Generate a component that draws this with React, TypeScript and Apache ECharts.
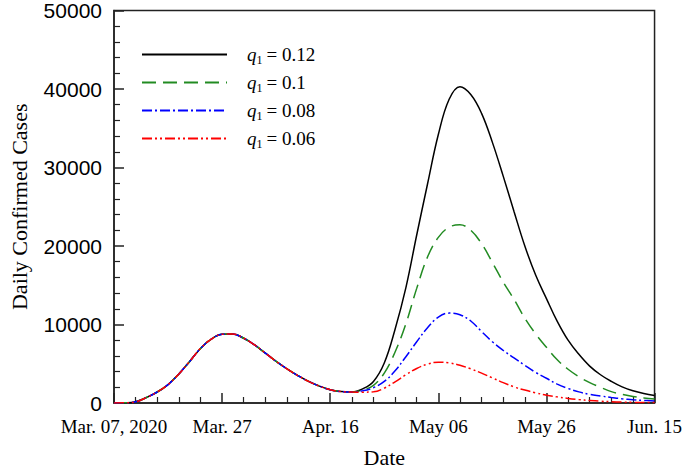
import React, { useEffect, useRef } from "react";
import * as echarts from "echarts";

const days = [0, 2, 4, 6, 8, 10, 12, 14, 16, 18, 20, 22, 24, 26, 28, 30, 32, 34, 36, 38, 40, 42, 44, 46, 48, 50, 52, 54, 56, 58, 60, 62, 64, 66, 68, 70, 72, 74, 76, 78, 80, 82, 84, 86, 88, 90, 92, 94, 96, 98, 100];

const firstWave = [0, 20, 150, 700, 1400, 2350, 3700, 5300, 6950, 8150, 8750, 8780, 8250, 7400, 6350, 5300, 4350, 3500, 2750, 2150, 1700, 1450, 1400];

const q012 = [1800, 2750, 5100, 9400, 14700, 21400, 27900, 34200, 38700, 40300, 39300, 36900, 33200, 28900, 24400, 20000, 16300, 13300, 10400, 8000, 6200, 4700, 3600, 2750, 2050, 1550, 1200, 950];
const q010 = [1650, 2250, 3800, 6500, 10100, 14600, 18600, 21100, 22400, 22700, 22000, 20300, 17900, 15400, 13200, 10800, 8800, 7100, 5500, 4300, 3350, 2600, 2000, 1450, 1100, 830, 650, 500];
const q008 = [1550, 1950, 2750, 4100, 5900, 7800, 9600, 10950, 11450, 11250, 10450, 9100, 7800, 6700, 5750, 4800, 3900, 3150, 2400, 1850, 1420, 1100, 900, 710, 540, 420, 330, 250];
const q006 = [1380, 1420, 1900, 2700, 3600, 4400, 4950, 5200, 5100, 4800, 4350, 3800, 3200, 2600, 2050, 1650, 1300, 1000, 780, 580, 430, 320, 230, 160, 110, 80, 60, 50];

const qValues = ["0.12", "0.1", "0.08", "0.06"];
const tickLabels = ["Mar. 07, 2020", "Mar. 27", "Apr. 16", "May 06", "May 26", "Jun. 15"];
const yTicks = [0, 10000, 20000, 30000, 40000, 50000];

const colors = ["#000000", "#228B22", "#0000ff", "#ff0000"];
const dashes: any[] = ["solid", [14, 7], [10, 3, 2, 3], [10, 3, 2, 3, 2, 3]];

export default function App() {
  const ref = useRef<HTMLDivElement>(null);
  useEffect(() => {
    document.body.style.margin = "0";
    const chart = echarts.init(ref.current!, null, { renderer: "svg" });
    const seriesVals = [q012, q010, q008, q006];
    const series = seriesVals.map((vals, i) => {
      const all = firstWave.concat(vals);
      return {
        type: "line",
        name: "q1 = " + qValues[i],
        data: days.map((d, k) => [d, all[k]]),
        smooth: 0.4,
        symbol: "none",
        showSymbol: false,
        lineStyle: { color: colors[i], width: 1.5, type: dashes[i] },
        itemStyle: { color: colors[i] },
      };
    });
    const option: any = {
      animation: false,
      grid: {
        left: 106,
        right: 25,
        top: 10,
        bottom: 65,
        show: true,
        borderColor: "#222",
        borderWidth: 1.5,
        backgroundColor: "transparent",
      },
      legend: {
        orient: "vertical",
        left: 141,
        top: 45,
        padding: 0,
        itemWidth: 85,
        itemHeight: 14,
        itemGap: 7.5,
        itemStyle: { opacity: 0 },
        data: series.map((s) => s.name),
        textStyle: {
          fontFamily: "Liberation Serif",
          fontSize: 18,
          color: "#000",
          padding: [0, 0, 0, 15],
          rich: {
            q: { fontFamily: "Liberation Serif", fontStyle: "italic", fontSize: 19, color: "#000" },
            s: { fontFamily: "Liberation Serif", fontSize: 12, color: "#000", padding: [10, 4, 0, 0] },
            t: { fontFamily: "Liberation Serif", fontSize: 19, color: "#000" },
          },
        },
        formatter: (name: string) => {
          const v = name.split("= ")[1];
          return "{q|q}{s|1}{t|= " + v + "}";
        },
      },
      xAxis: {
        type: "value",
        min: 0,
        max: 100,
        interval: 20,
        name: "Date",
        nameLocation: "middle",
        nameGap: 43,
        nameTextStyle: { fontFamily: "Liberation Serif", fontSize: 22, color: "#000" },
        splitLine: { show: false },
        axisLine: { lineStyle: { color: "#222", width: 1.5 } },
        axisTick: { inside: true, length: 10, lineStyle: { color: "#222", width: 1.5 } },
        minorTick: { show: true, splitNumber: 5, length: 6, lineStyle: { color: "#222", width: 1.2 } },
        axisLabel: {
          margin: 14,
          fontFamily: "Liberation Serif",
          fontSize: 19,
          color: "#000",
          showMaxLabel: true,
          showMinLabel: true,
          formatter: (v: number) => tickLabels[Math.round(v / 20)] ?? "",
        },
      },
      yAxis: {
        type: "value",
        min: yTicks[0],
        max: yTicks[yTicks.length - 1],
        interval: 10000,
        name: "Daily Confirmed Cases",
        nameLocation: "middle",
        nameGap: 84,
        nameTextStyle: { fontFamily: "Liberation Serif", fontSize: 22, color: "#000" },
        splitLine: { show: false },
        axisLine: { lineStyle: { color: "#222", width: 1.5 } },
        axisTick: { inside: true, length: 10, lineStyle: { color: "#222", width: 1.5 } },
        minorTick: { show: true, splitNumber: 5, length: 6, lineStyle: { color: "#222", width: 1.2 } },
        axisLabel: {
          margin: 12,
          fontFamily: "Liberation Sans",
          fontSize: 21,
          color: "#000",
          formatter: (v: number) => String(v),
        },
      },
      series,
    };
    chart.setOption(option);
    return () => chart.dispose();
  }, []);
  return <div ref={ref} style={{ width: 685, height: 473 }} />;
}
